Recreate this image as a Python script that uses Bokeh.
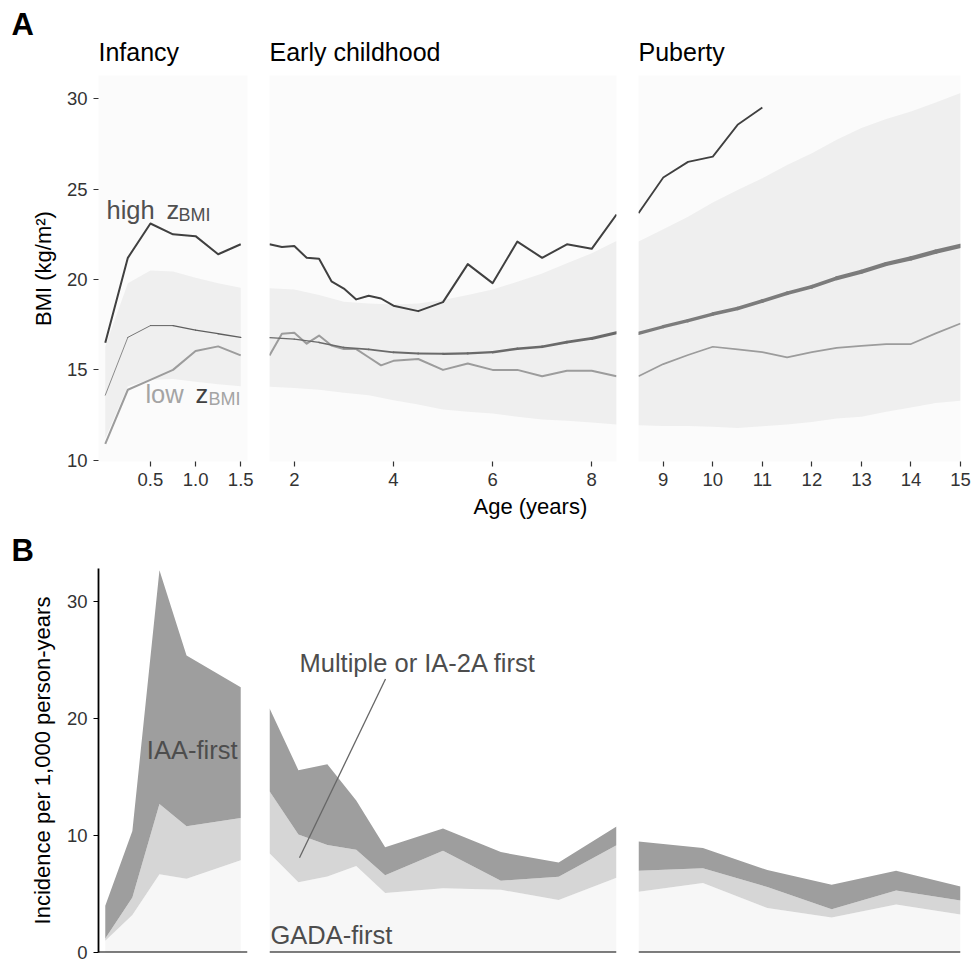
import numpy as np
from bokeh.plotting import figure
from bokeh.models import (ColumnDataSource, FixedTicker, PrintfTickFormatter,
                          LinearAxis, Range1d, Span, Title)
from bokeh.layouts import row, column
from bokeh.embed import file_html
from bokeh.resources import INLINE
from bokeh.core.properties import value

FONT = "Liberation Sans"

# ---------------- Panel A: BMI (kg/m2) ----------------
inf_age = [0, 0.25, 0.5, 0.75, 1.0, 1.25, 1.5]
inf_high = [16.5, 21.2, 23.1, 22.5, 22.4, 21.4, 21.95]
inf_median = [13.6, 16.8, 17.45, 17.45, 17.2, 17.0, 16.8]
inf_low = [10.9, 13.9, 14.45, 15.0, 16.05, 16.3, 15.8]
inf_band_lo = [11.2, 14.1, 14.45, 14.5, 14.35, 14.2, 14.1]
inf_band_hi = [16.3, 19.8, 20.5, 20.45, 20.1, 19.8, 19.55]

ec_age = [1.5, 1.75, 2, 2.25, 2.5, 2.75, 3, 3.25, 3.5, 3.75, 4, 4.5, 5,
          5.5, 6, 6.5, 7, 7.5, 8, 8.5]
ec_high = [21.95, 21.8, 21.85, 21.2, 21.15, 19.9, 19.5, 18.9, 19.1, 18.95,
           18.55, 18.25, 18.75, 20.85, 19.8, 22.1, 21.2, 21.95, 21.7, 23.6]
ec_low = [15.8, 17.0, 17.05, 16.45, 16.9, 16.35, 16.15, 16.15, 15.7, 15.25,
          15.5, 15.6, 15.0, 15.35, 15.0, 15.0, 14.65, 14.95, 14.95, 14.65]
ec_ref_age = [1.5, 2, 2.5, 3, 3.5, 4, 4.5, 5, 5.5, 6, 6.5, 7, 7.5, 8, 8.5]
ec_median = [16.78, 16.7, 16.52, 16.24, 16.13, 15.97, 15.91, 15.89, 15.91,
             15.98, 16.17, 16.28, 16.54, 16.74, 17.05]
ec_band_lo = [14.06, 14.0, 13.9, 13.73, 13.6, 13.32, 13.08, 12.81, 12.68,
              12.59, 12.4, 12.25, 12.18, 12.09, 11.98]
ec_band_hi = [19.52, 19.45, 19.14, 18.77, 18.68, 18.62, 18.68, 18.86, 19.14,
              19.45, 19.88, 20.34, 20.9, 21.45, 22.13]

pub_age = [8.5, 9, 9.5, 10, 10.5, 11, 11.5, 12, 12.5, 13, 13.5, 14, 14.5, 15]
pub_median = [17.02, 17.39, 17.72, 18.09, 18.4, 18.81, 19.24, 19.6, 20.07,
              20.43, 20.86, 21.17, 21.54, 21.86]
pub_low = [14.65, 15.32, 15.82, 16.28, 16.13, 15.98, 15.69, 15.98, 16.22,
           16.33, 16.43, 16.43, 17.02, 17.57]
pub_band_lo = [11.94, 11.9, 11.9, 11.85, 11.79, 11.88, 11.98, 12.12, 12.31,
               12.4, 12.68, 12.92, 13.17, 13.29]
pub_band_hi = [22.1, 22.78, 23.48, 24.26, 24.96, 25.6, 26.34, 26.99, 27.73,
               28.38, 28.88, 29.3, 29.8, 30.32]
pub_high_age = [8.5, 9, 9.5, 10, 10.5, 11]
pub_high = [23.67, 25.64, 26.51, 26.8, 28.56, 29.52]

# ---------------- Panel B: incidence per 1,000 person-years ----------------
inc_inf_age = [0, 0.3, 0.6, 0.9, 1.5]
inc_inf_gada = [1.0, 3.2, 6.7, 6.3, 7.9]
inc_inf_multi = [0.2, 1.5, 6.0, 4.5, 3.6]
inc_inf_iaa = [2.8, 5.7, 20.0, 14.6, 11.2]

inc_ec_age = [1.5, 2.083, 2.667, 3.25, 3.833, 5.0, 6.167, 7.333, 8.5]
inc_ec_gada = [8.5, 6.0, 6.5, 7.4, 5.1, 5.5, 5.36, 4.5, 6.4]
inc_ec_multi = [5.3, 4.1, 2.7, 1.4, 1.5, 3.2, 0.78, 1.98, 2.78]
inc_ec_iaa = [7.1, 5.5, 6.9, 4.2, 2.4, 1.9, 2.45, 1.21, 1.6]

inc_pub_age = [8.5, 9.8, 11.1, 12.4, 13.7, 15.0]
inc_pub_gada = [5.2, 5.95, 3.8, 3.0, 4.1, 3.25]
inc_pub_multi = [1.8, 1.25, 1.8, 0.7, 1.2, 1.2]
inc_pub_iaa = [2.5, 1.75, 1.45, 2.1, 1.7, 1.2]

# ---------------- ticks / facets ----------------
facet_names = ["Infancy", "Early childhood", "Puberty"]
panel_tags = ["A", "B"]
inf_ticks = [0.5, 1.0, 1.5]
ec_ticks = [2, 4, 6, 8]
pub_ticks = [9, 10, 11, 12, 13, 14, 15]
bmi_ticks = [10, 15, 20, 25, 30]
inc_ticks = [0, 10, 20, 30]

inf_xr = (-0.075, 1.575)
ec_xr = (1.5, 8.5)
pub_xr = (8.5, 15)
bmi_yr = (9.93, 31.29)
inc_yr = (0, 32.85)

# ---------------- styles ----------------
BG_A = "#FBFBFB"
BAND = "#EFEFEF"
HIGH_C = "#404040"
LOW_C = "#9C9C9C"
STACK_COLORS = ["#F7F7F7", "#D6D6D6", "#9E9E9E"]
ANN_C = "#4D4D4D"


def base_fig(w, h, xr, yr, lb, rb, tb, bb, bg="white"):
    p = figure(width=w, height=h, x_range=Range1d(*xr), y_range=Range1d(*yr),
               output_backend="svg", toolbar_location=None, title=None,
               x_axis_location=None, y_axis_location=None,
               min_border_left=lb, min_border_right=rb,
               min_border_top=tb, min_border_bottom=bb)
    p.xgrid.visible = False
    p.ygrid.visible = False
    p.outline_line_color = None
    p.background_fill_color = bg
    p.border_fill_color = "white"
    return p


def facet_title(p, text):
    p.add_layout(Title(text=text, align="left", standoff=20, text_font=FONT,
                       text_font_size="25px", text_font_style="normal",
                       text_color="black"), "above")


def tag_title(p, text, standoff):
    p.add_layout(Title(text=text, align="left", offset=-87, standoff=standoff,
                       text_font=FONT, text_font_size="31px", text_font_style="bold",
                       text_color="black"), "above")


def style_axis(ax, tick_color, line_color=None, line_width=1.0, standoff=4):
    ax.major_tick_out = 5
    ax.major_tick_in = 0
    ax.minor_tick_out = 0
    ax.minor_tick_in = 0
    ax.major_tick_line_color = tick_color
    ax.major_tick_line_width = 1.2
    ax.axis_line_color = line_color
    ax.axis_line_width = line_width
    ax.major_label_standoff = standoff
    ax.major_label_text_font = FONT
    ax.major_label_text_font_size = "18.5px"
    ax.major_label_text_color = "#333333"
    ax.axis_label_text_font = FONT
    ax.axis_label_text_font_size = "22px"
    ax.axis_label_text_font_style = "normal"
    ax.axis_label_text_color = "black"


def median_segments(p, ages, vals, w0, w1, color):
    xs = [[ages[i], ages[i + 1]] for i in range(len(ages) - 1)]
    ys = [[vals[i], vals[i + 1]] for i in range(len(vals) - 1)]
    widths = list(np.linspace(w0, w1, len(xs)))
    p.multi_line(xs=xs, ys=ys, line_width=widths, line_color=color,
                 line_cap="round", line_join="round")


def bmi_panel(p, band_age, lo, hi, med_age, med, w0, w1, med_c,
              high_age, high, low_age, low, hw, lw):
    p.varea(x=band_age, y1=lo, y2=hi, fill_color=BAND)
    p.line(low_age, low, line_color=LOW_C, line_width=lw, line_join="round")
    median_segments(p, med_age, med, w0, w1, med_c)
    p.line(high_age, high, line_color=HIGH_C, line_width=hw, line_join="round")


# ---------------- layout geometry ----------------
W1, W2, W3 = 258, 369, 344
HA, HB = 528, 434

# ---- Row A ----
a1 = base_fig(W1, HA, inf_xr, bmi_yr, 98, 11, 75, 67, BG_A)
a2 = base_fig(W2, HA, ec_xr, bmi_yr, 11, 11, 75, 67, BG_A)
a3 = base_fig(W3, HA, pub_xr, bmi_yr, 11, 11, 75, 67, BG_A)
for p, name in zip((a1, a2, a3), facet_names):
    facet_title(p, name)
tag_title(a1, panel_tags[0], -32)

bmi_panel(a1, inf_age, inf_band_lo, inf_band_hi, inf_age, inf_median, 0.7, 1.4,
          "#5E5E5E", inf_age, inf_high, inf_age, inf_low, 2.0, 2.0)
bmi_panel(a2, ec_ref_age, ec_band_lo, ec_band_hi, ec_ref_age, ec_median, 1.3, 3.0,
          "#6A6A6A", ec_age, ec_high, ec_age, ec_low, 2.0, 2.0)
bmi_panel(a3, pub_age, pub_band_lo, pub_band_hi, pub_age, pub_median, 3.2, 4.4,
          "#7C7C7C", pub_high_age, pub_high, pub_age, pub_low, 1.8, 1.7)

for p, ticks, fmt in ((a1, inf_ticks, "%.1f"), (a2, ec_ticks, "%d"), (a3, pub_ticks, "%d")):
    ax = LinearAxis(ticker=FixedTicker(ticks=ticks), formatter=PrintfTickFormatter(format=fmt))
    style_axis(ax, "#333333", None, standoff=6)
    p.add_layout(ax, "below")

a2.add_layout(Title(text="Age (years)", align="left", offset=204, standoff=10,
                    vertical_align="top", text_font=FONT, text_font_size="22px",
                    text_font_style="normal", text_color="black"), "below")

ay = LinearAxis(ticker=FixedTicker(ticks=bmi_ticks), axis_label="BMI (kg/m²)")
style_axis(ay, "#333333", None, standoff=6)
ay.axis_label_standoff = 8
a1.add_layout(ay, "left")

# annotations in panel A
ann_high = dict(x=0.013, y=23.87)
ann_low = dict(x=0.445, y=13.64)
a1.text(x=[ann_high["x"]], y=[ann_high["y"]], text=["high"], text_color="#505050",
        text_font=value(FONT), text_font_size=value("25.5px"), text_baseline="alphabetic")
a1.text(x=[ann_high["x"]], y=[ann_high["y"]], text=["z"], x_offset=60, text_color="#505050",
        text_font=value(FONT), text_font_size=value("25.5px"), text_baseline="alphabetic")
a1.text(x=[ann_high["x"]], y=[ann_high["y"]], text=["BMI"], x_offset=72, y_offset=5,
        text_color="#505050", text_font=value(FONT), text_font_size=value("18px"),
        text_baseline="alphabetic")
a1.text(x=[ann_low["x"]], y=[ann_low["y"]], text=["low"], text_color="#A4A4A4",
        text_font=value(FONT), text_font_size=value("25.5px"), text_baseline="alphabetic")
a1.text(x=[ann_low["x"]], y=[ann_low["y"]], text=["z"], x_offset=50, text_color="#404040",
        text_font=value(FONT), text_font_size=value("25.5px"), text_baseline="alphabetic")
a1.text(x=[ann_low["x"]], y=[ann_low["y"]], text=["BMI"], x_offset=63, y_offset=5,
        text_color="#A4A4A4", text_font=value(FONT), text_font_size=value("18px"),
        text_baseline="alphabetic")

# ---- Row B ----
b1 = base_fig(W1, HB, inf_xr, inc_yr, 98, 11, 40, 10)
b2 = base_fig(W2, HB, ec_xr, inc_yr, 11, 11, 40, 10)
b3 = base_fig(W3, HB, pub_xr, inc_yr, 11, 11, 40, 10)
tag_title(b1, panel_tags[1], 1)

for p, age, g, m, i in ((b1, inc_inf_age, inc_inf_gada, inc_inf_multi, inc_inf_iaa),
                        (b2, inc_ec_age, inc_ec_gada, inc_ec_multi, inc_ec_iaa),
                        (b3, inc_pub_age, inc_pub_gada, inc_pub_multi, inc_pub_iaa)):
    src = ColumnDataSource(dict(age=age, gada=g, multi=m, iaa=i))
    p.varea_stack(stackers=["gada", "multi", "iaa"], x="age", color=STACK_COLORS, source=src)
    p.add_layout(Span(location=0, dimension="width", line_color="black", line_width=2))

by = LinearAxis(ticker=FixedTicker(ticks=inc_ticks), axis_label="Incidence per 1,000 person-years")
style_axis(by, "black", "black", line_width=1.8, standoff=6)
by.axis_label_standoff = 9
b1.add_layout(by, "left")

b1.text(x=[1.464], y=[17.3], text=["IAA-first"], text_color=ANN_C, text_align="right",
        text_font=value(FONT), text_font_size=value("25.5px"), text_baseline="alphabetic")
b2.text(x=[2.105], y=[24.8], text=["Multiple or IA-2A first"], text_color=ANN_C,
        text_font=value(FONT), text_font_size=value("25.5px"), text_baseline="alphabetic")
b2.line([3.84, 2.105], [23.4, 8.1], line_color="#666666", line_width=1.3)
b2.text(x=[1.52], y=[1.5], text=["GADA-first"], text_color=ANN_C,
        text_font=value(FONT), text_font_size=value("25.5px"), text_baseline="alphabetic")

layout = column(row(a1, a2, a3), row(b1, b2, b3))
open("out.html", "w").write(file_html(layout, INLINE))
